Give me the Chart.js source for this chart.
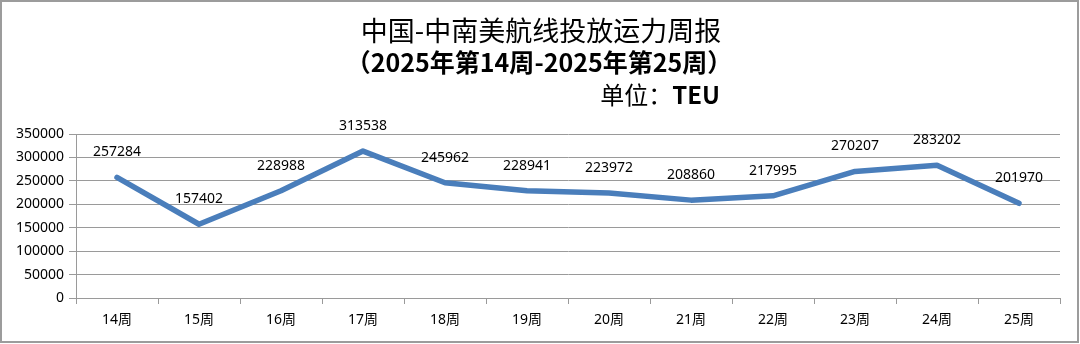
<!DOCTYPE html>
<html>
<head>
<meta charset="utf-8">
<script src="https://cdn.jsdelivr.net/npm/chart.js@4/dist/chart.umd.min.js"></script>
<style>
  html, body { margin: 0; padding: 0; background: #fff; }
  #wrap { width: 1080px; height: 344px; position: relative; }
</style>
</head>
<body>
<div id="wrap"><canvas id="c"></canvas></div>
<script>
// Weekly capacity, China – Central & South America trade (TEU)
const weeks = ['14周', '15周', '16周', '17周', '18周', '19周', '20周', '21周', '22周', '23周', '24周', '25周'];
const capacityTEU = [257284, 157402, 228988, 313538, 245962, 228941, 223972, 208860, 217995, 270207, 283202, 201970];
const yTicks = [0, 50000, 100000, 150000, 200000, 250000, 300000, 350000];

const titleMain = '中国-中南美航线投放运力周报';
const titleRange = '（2025年第14周-2025年第25周）';
const unitLabel = '单位：';
const unitValue = 'TEU';

const LATIN = '"Noto Sans", "Noto Sans CJK SC", sans-serif';
const CJK = '"Noto Sans CJK SC", "Noto Sans", sans-serif';
const GRID = '#9a9a9a';

// White page, grey frame around the whole figure, and the title block
const frame = {
  id: 'frame',
  beforeDraw(chart) {
    const ctx = chart.ctx;
    ctx.save();
    ctx.fillStyle = '#ffffff';
    ctx.fillRect(0, 0, chart.width, chart.height);
    ctx.restore();
  },
  afterDraw(chart) {
    const ctx = chart.ctx;
    ctx.save();
    ctx.strokeStyle = '#9c9c9c';
    ctx.lineWidth = 2;
    ctx.strokeRect(1, 1, 1077, 341);

    ctx.fillStyle = '#000';
    ctx.textBaseline = 'middle';
    ctx.textAlign = 'center';
    ctx.font = '27px ' + CJK;
    ctx.fillText(titleMain, 541, 31);
    ctx.font = 'bold 25px ' + CJK;
    ctx.fillText(titleRange, 539, 62);

    // unit line, right edge lined up with the title block
    ctx.textAlign = 'left';
    ctx.font = 'bold 24px ' + CJK;
    const wVal = ctx.measureText(unitValue).width;
    ctx.font = '24px ' + CJK;
    const wLab = ctx.measureText(unitLabel).width;
    const right = 720;
    ctx.fillText(unitLabel, right - wVal - wLab, 95);
    ctx.font = 'bold 24px ' + CJK;
    ctx.fillText(unitValue, right - wVal, 95);
    ctx.restore();
  }
};

// Value labels above each point of the line
const valueLabels = {
  id: 'valueLabels',
  afterDatasetsDraw(chart) {
    const ctx = chart.ctx;
    const meta = chart.getDatasetMeta(0);
    const values = chart.data.datasets[0].data;
    ctx.save();
    ctx.font = '14px ' + LATIN;
    ctx.fillStyle = '#000';
    ctx.textAlign = 'center';
    ctx.textBaseline = 'middle';
    meta.data.forEach((pt, i) => {
      ctx.fillText(String(values[i]), pt.x, pt.y - 25);
    });
    ctx.restore();
  }
};

new Chart(document.getElementById('c'), {
  type: 'line',
  data: {
    labels: weeks,
    datasets: [{
      data: capacityTEU,
      borderColor: '#4a7ebb',
      borderWidth: 5.5,
      borderJoinStyle: 'round',
      borderCapStyle: 'round',
      pointRadius: 0,
      pointHoverRadius: 0,
      tension: 0,
      fill: false
    }]
  },
  options: {
    responsive: true,
    maintainAspectRatio: false,
    animation: false,
    events: [],
    layout: { padding: { top: 134, right: 20, left: 0, bottom: 0 } },
    plugins: {
      legend: { display: false },
      title: { display: false },
      tooltip: { enabled: false }
    },
    scales: {
      x: {
        type: 'category',
        offset: true,
        grid: {
          offset: true,
          drawOnChartArea: false,
          drawTicks: true,
          tickLength: 6,
          color: GRID,
          lineWidth: 1
        },
        border: { display: true, color: GRID, width: 1 },
        ticks: {
          color: '#000',
          font: { family: LATIN, size: 14 },
          padding: 8,
          maxRotation: 0,
          autoSkip: false
        },
        afterFit(scale) { scale.height = 46; }
      },
      y: {
        min: 0,
        max: 350000,
        afterBuildTicks(scale) { scale.ticks = yTicks.map(v => ({ value: v })); },
        grid: {
          color: GRID,
          lineWidth: 1,
          drawTicks: true,
          tickLength: 7
        },
        border: { display: true, color: GRID, width: 1 },
        ticks: {
          color: '#000',
          font: { family: LATIN, size: 14 },
          padding: 5,
          callback: v => String(v)
        },
        afterFit(scale) { scale.width = 76; }
      }
    }
  },
  plugins: [frame, valueLabels]
});
</script>
</body>
</html>
